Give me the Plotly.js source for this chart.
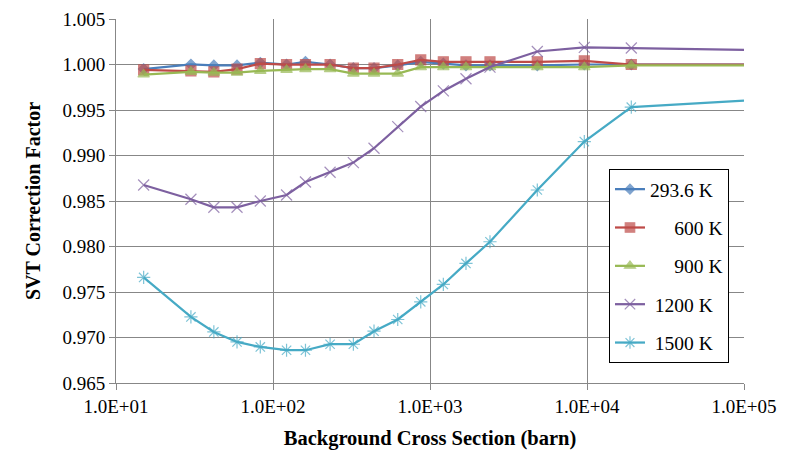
<!DOCTYPE html>
<html>
<head>
<meta charset="utf-8">
<script src="https://cdn.plot.ly/plotly-3.0.1.min.js"></script>
<style>html,body{margin:0;padding:0;background:#fff;}#chart{width:797px;height:465px;}</style>
</head>
<body>
<div id="chart"></div>
<script>
// Background cross section (barn); last value is the right edge of the axis
var xBarn = [15, 30, 42, 59, 83, 122, 161, 231, 325, 440, 623, 873, 1216, 1695, 2410, 4825, 9615, 19150, 100000];

var svt2936 = [0.9995, 1.0000, 0.9999, 0.9999, 1.0002, 1.0000, 1.0003, 1.0000, 0.9996, 0.9996, 0.9999, 1.0003, 1.0001, 0.9999, 0.9999, 0.9999, 1.0000, 1.0000, 1.0000];
var svt600  = [0.9994, 0.9993, 0.9992, 0.9995, 1.0001, 1.0000, 1.0000, 1.0000, 0.9996, 0.9996, 1.0000, 1.0005, 1.0003, 1.0003, 1.0003, 1.0003, 1.0004, 1.0000, 1.0000];
var svt900  = [0.9989, 0.9992, 0.9991, 0.9991, 0.9993, 0.9994, 0.9995, 0.9995, 0.9990, 0.9990, 0.9990, 0.9997, 0.9997, 0.9997, 0.9997, 0.9997, 0.9997, 0.9999, 0.9999];
var svt1200 = [0.98676, 0.98519, 0.98431, 0.98431, 0.98500, 0.98566, 0.98709, 0.98816, 0.98922, 0.99080, 0.99318, 0.99538, 0.99710, 0.99843, 0.99972, 1.00143, 1.00188, 1.00181, 1.00162];
var svt1500 = [0.97660, 0.97226, 0.97061, 0.96951, 0.96896, 0.96860, 0.96860, 0.96926, 0.96926, 0.97069, 0.97198, 0.97392, 0.97583, 0.97814, 0.98052, 0.98621, 0.99153, 0.99531, 0.99604];

var seriesNames = ['293.6 K', '\u00a0\u00a0\u00a0\u00a0\u00a0600 K', '\u00a0\u00a0\u00a0\u00a0\u00a0900 K', '\u00a01200 K', '\u00a01500 K'];
var seriesData = [svt2936, svt600, svt900, svt1200, svt1500];

var xTickVals = [10, 100, 1000, 10000, 100000];
var xTickText = ['1.0E+01', '1.0E+02', '1.0E+03', '1.0E+04', '1.0E+05'];

var colors = ['#4A7EBB', '#BE4B48', '#98B954', '#7D60A0', '#46AAC5'];
var symbols = ['diamond', 'square', 'triangle-up', 'x-thin-open', 'asterisk-open'];
var sizes = [8, 10, 10, 11, 11];

function sizeArr(s, n) {
  var a = [];
  for (var i = 0; i < n; i++) a.push(i === n - 1 ? 0 : s);
  return a;
}

var traces = seriesData.map(function (y, k) {
  return {
    x: xBarn, y: y, type: 'scatter', mode: 'lines+markers',
    name: seriesNames[k], legendgroup: 'g' + k,
    line: {color: colors[k], width: 2.25},
    marker: {symbol: symbols[k], size: sizeArr(sizes[k], xBarn.length), color: colors[k],
             line: {color: colors[k], width: 1.2}},
    cliponaxis: true
  };
});

var font = '"Liberation Serif", "Times New Roman", serif';
var layout = {
  width: 797, height: 465,
  margin: {l: 116, r: 53, t: 19, b: 82},
  paper_bgcolor: '#fff', plot_bgcolor: '#fff',
  font: {family: font, size: 19, color: '#000'},
  showlegend: true,
  legend: {
    x: 0.785, y: 0.588, xanchor: 'left', yanchor: 'top',
    bgcolor: '#fff', bordercolor: '#000', borderwidth: 1,
    font: {family: font, size: 19.5, color: '#000'},
    tracegroupgap: 10, itemwidth: 30
  },
  xaxis: {
    type: 'log', range: [1, 5],
    tickvals: xTickVals, ticktext: xTickText,
    showgrid: true, gridcolor: '#878787', gridwidth: 1,
    showline: true, linecolor: '#878787', linewidth: 1,
    ticks: 'outside', ticklen: 6, tickcolor: '#878787',
    tickfont: {family: font, size: 19, color: '#000'},
    zeroline: false,
    title: {text: '<b>Background Cross Section (barn)</b>', font: {family: font, size: 20.5, color: '#000'}, standoff: 14}
  },
  yaxis: {
    range: [0.965, 1.005], dtick: 0.005, tick0: 0.965, tickformat: '.3f',
    showgrid: true, gridcolor: '#878787', gridwidth: 1,
    showline: true, linecolor: '#878787', linewidth: 1,
    ticks: 'outside', ticklen: 6, tickcolor: '#878787',
    tickfont: {family: font, size: 19, color: '#000'},
    zeroline: false,
    title: {text: '<b>SVT Correction Factor</b>', font: {family: font, size: 20, color: '#000'}, standoff: 16}
  }
};

Plotly.newPlot('chart', traces, layout, {displayModeBar: false, staticPlot: true});
</script>
</body>
</html>
